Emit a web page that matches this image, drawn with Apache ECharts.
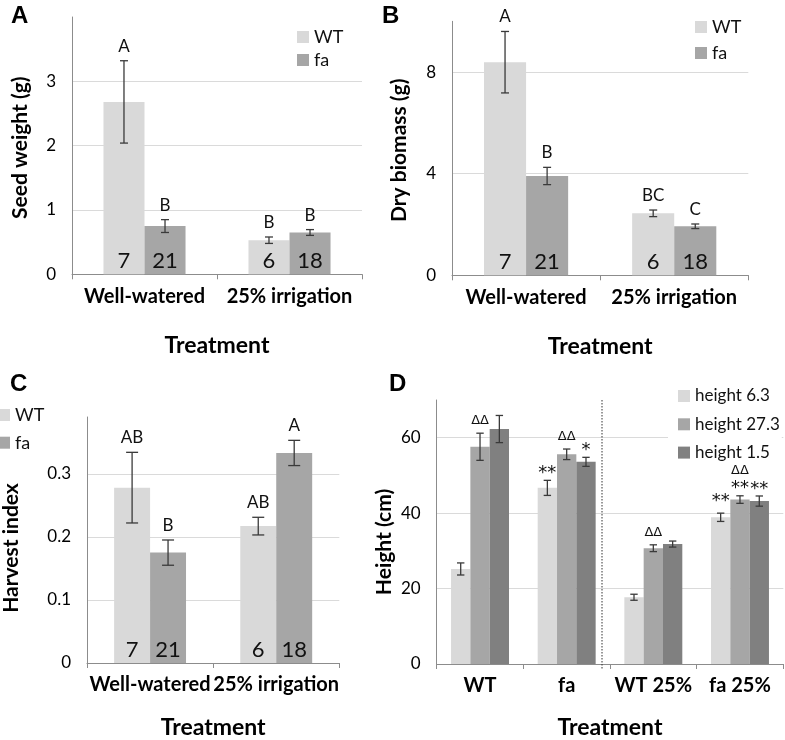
<!DOCTYPE html>
<html>
<head>
<meta charset="utf-8">
<script src="https://cdn.jsdelivr.net/npm/echarts@6/dist/echarts.min.js"></script>
<style>html,body{margin:0;padding:0;background:#fff}#c{width:785px;height:740px}</style>
</head>
<body>
<div id="c"></div>
<script>
// ---------- DATA ----------
const treatments = ['Well-watered', '25% irrigation'];
const genotypes = ['WT', 'fa'];
const nWT = [7, 6];
const nFa = [21, 18];

const seedWT = [2.68, 0.53];
const seedWTErr = [0.64, 0.05];
const seedFa = [0.75, 0.65];
const seedFaErr = [0.10, 0.045];
const seedWTLetters = ['A', 'B'];
const seedFaLetters = ['B', 'B'];

const biomassWT = [8.39, 2.44];
const biomassWTErr = [1.21, 0.13];
const biomassFa = [3.91, 1.93];
const biomassFaErr = [0.34, 0.09];
const biomassWTLetters = ['A', 'BC'];
const biomassFaLetters = ['B', 'C'];

const harvestWT = [0.278, 0.217];
const harvestWTErr = [0.056, 0.014];
const harvestFa = [0.175, 0.333];
const harvestFaErr = [0.020, 0.020];
const harvestWTLetters = ['AB', 'AB'];
const harvestFaLetters = ['B', 'A'];

const heightGroups = ['WT', 'fa', 'WT 25%', 'fa 25%'];
const heightNames = ['height 6.3', 'height 27.3', 'height 1.5'];
const height63 = [25.2, 46.7, 17.7, 38.9];
const height63Err = [1.6, 2.0, 0.8, 1.1];
const height273 = [57.6, 55.6, 30.7, 43.6];
const height273Err = [3.6, 1.4, 0.9, 1.0];
const height15 = [62.3, 53.6, 31.8, 43.2];
const height15Err = [3.6, 1.2, 0.8, 1.35];
const height63Stars = ['', '**', '', '**'];
const height273Stars = ['', '', '', '**'];
const height15Stars = ['', '*', '', '**'];
const height63Deltas = ['', '', '', ''];
const height273Deltas = ['ΔΔ', 'ΔΔ', 'ΔΔ', 'ΔΔ'];
const height15Deltas = ['', '', '', ''];

// ---------- STYLE ----------
const FONT = 'Lato, "Open Sans", sans-serif';
const C_LIGHT = '#d9d9d9', C_MID = '#a6a6a6', C_DARK = '#808080';
const AXIS_C = '#8c8c8c', GRID_C = '#dadada', ERR_C = '#3a3a3a';

const grids = [
  {left: 72, top: 17, width: 290, height: 257.3},
  {left: 452, top: 21.3, width: 296.3, height: 254},
  {left: 84.3, top: 417, width: 255, height: 248.7},
  {left: 436.7, top: 400, width: 346.6, height: 265.3}
];

function xAx(gi, cats, gap) {
  return {
    type: 'category', gridIndex: gi, data: cats,
    axisLine: {lineStyle: {color: AXIS_C}},
    axisTick: {show: true, length: 5, lineStyle: {color: AXIS_C}},
    axisLabel: {fontFamily: FONT, fontWeight: 'bold', fontSize: 20, color: '#000', margin: 12, interval: 0},
    name: 'Treatment', nameLocation: 'middle', nameGap: gap,
    nameTextStyle: {fontFamily: FONT, fontWeight: 'bold', fontSize: 23, color: '#000'}
  };
}
function yAx(gi, max, interval, name, gap, shift, fmt) {
  return {
    type: 'value', gridIndex: gi, min: 0, max: max, interval: interval,
    axisLine: {show: true, lineStyle: {color: AXIS_C}},
    axisTick: {show: false},
    splitLine: {show: true, showMaxLine: false, lineStyle: {color: GRID_C}},
    axisLabel: {fontFamily: FONT, fontSize: 17, color: '#000', margin: 16, showMaxLabel: false,
      formatter: fmt || (v => String(v))},
    name: name, nameLocation: 'middle', nameGap: gap, nameRotate: 90,
    nameTextStyle: {fontFamily: FONT, fontWeight: 'bold', fontSize: 21, color: '#000',
      padding: [0, shift, 0, 0]}
  };
}

function barSeries(gi, name, values, color, frac, counts) {
  const s = {
    type: 'bar', name: name, xAxisIndex: gi, yAxisIndex: gi,
    data: values, barWidth: frac, barGap: '0%',
    itemStyle: {color: color}, z: 2
  };
  if (counts) {
    s.label = {show: true, position: 'insideBottom', distance: 2,
      fontFamily: FONT, fontSize: 22, color: '#111',
      formatter: p => String(counts[p.dataIndex])};
  }
  return s;
}

// error bars + text annotations above them
function errSeries(gi, values, errs, opts) {
  const n = opts.n, idx = opts.idx, frac = opts.frac, capHalf = opts.cap;
  return {
    type: 'custom', xAxisIndex: gi, yAxisIndex: gi, z: 5, silent: true,
    data: values.map((v, i) => [i, v, errs[i]]),
    renderItem: function (params, api) {
      const ci = api.value(0), v = api.value(1), e = api.value(2);
      const c = api.coord([ci, v]);
      const catW = api.size([1, 0])[0];
      const bw = catW * frac;
      const x = c[0] + (idx - (n - 1) / 2) * bw;
      const top = api.coord([ci, v + e])[1];
      const bot = api.coord([ci, v - e])[1];
      const st = {stroke: ERR_C, lineWidth: 1.3};
      const ch = [
        {type: 'line', shape: {x1: x, y1: top, x2: x, y2: bot}, style: st},
        {type: 'line', shape: {x1: x - capHalf, y1: top, x2: x + capHalf, y2: top}, style: st},
        {type: 'line', shape: {x1: x - capHalf, y1: bot, x2: x + capHalf, y2: bot}, style: st}
      ];
      const di = params.dataIndex;
      if (opts.letters && opts.letters[di]) {
        ch.push({type: 'text', x: x, y: top - 6,
          style: {text: opts.letters[di], align: 'center', verticalAlign: 'bottom',
            font: '17px ' + FONT, fill: '#111'}});
      }
      let y = top;
      if (opts.stars && opts.stars[di]) {
        ch.push({type: 'text', x: x, y: top - 7 - (opts.starExtra ? opts.starExtra[di] : 0),
          style: {text: opts.stars[di], align: 'center', verticalAlign: 'middle',
            font: '18px "DejaVu Sans"', fill: '#111'}});
        y = top - 12.6;
      }
      if (opts.deltas && opts.deltas[di]) {
        ch.push({type: 'text', x: x, y: y - 12.5,
          style: {text: opts.deltas[di], align: 'center', verticalAlign: 'middle',
            font: '13px "DejaVu Sans"', fill: '#111'}});
      }
      return {type: 'group', children: ch};
    }
  };
}

const series = [
  // Panel A
  barSeries(0, 'WT', seedWT, C_LIGHT, '28.3%', nWT),
  barSeries(0, 'fa', seedFa, C_MID, '28.3%', nFa),
  errSeries(0, seedWT, seedWTErr, {n: 2, idx: 0, frac: 0.283, cap: 4, letters: seedWTLetters}),
  errSeries(0, seedFa, seedFaErr, {n: 2, idx: 1, frac: 0.283, cap: 4, letters: seedFaLetters}),
  // Panel B
  barSeries(1, 'WT', biomassWT, C_LIGHT, '28.4%', nWT),
  barSeries(1, 'fa', biomassFa, C_MID, '28.4%', nFa),
  errSeries(1, biomassWT, biomassWTErr, {n: 2, idx: 0, frac: 0.284, cap: 4, letters: biomassWTLetters}),
  errSeries(1, biomassFa, biomassFaErr, {n: 2, idx: 1, frac: 0.284, cap: 4, letters: biomassFaLetters}),
  // Panel C
  barSeries(2, 'WT', harvestWT, C_LIGHT, '28.5%', nWT),
  barSeries(2, 'fa', harvestFa, C_MID, '28.5%', nFa),
  errSeries(2, harvestWT, harvestWTErr, {n: 2, idx: 0, frac: 0.285, cap: 6, letters: harvestWTLetters}),
  errSeries(2, harvestFa, harvestFaErr, {n: 2, idx: 1, frac: 0.285, cap: 6, letters: harvestFaLetters}),
  // Panel D
  barSeries(3, heightNames[0], height63, C_LIGHT, '22.3%'),
  barSeries(3, heightNames[1], height273, C_MID, '22.3%'),
  barSeries(3, heightNames[2], height15, C_DARK, '22.3%'),
  errSeries(3, height63, height63Err, {n: 3, idx: 0, frac: 0.223, cap: 3.7,
    stars: height63Stars, deltas: height63Deltas, starExtra: [0, 0, 0, 5]}),
  errSeries(3, height273, height273Err, {n: 3, idx: 1, frac: 0.223, cap: 3.7,
    stars: height273Stars, deltas: height273Deltas}),
  errSeries(3, height15, height15Err, {n: 3, idx: 2, frac: 0.223, cap: 3.7,
    stars: height15Stars, deltas: height15Deltas}),
  // Divider between well-watered and 25% groups in D
  {
    type: 'custom', xAxisIndex: 3, yAxisIndex: 3, silent: true, z: 1,
    data: [[1, 0]],
    renderItem: function (params, api) {
      const a = api.coord([1, 0]), b = api.coord([2, 0]);
      const topY = api.coord([1, 70])[1];
      const x = (a[0] + b[0]) / 2 - 8;
      return {type: 'line', shape: {x1: x, y1: topY, x2: x, y2: a[1] + 5},
        style: {stroke: '#333', lineWidth: 1, lineDash: [1.5, 1.5]}};
    }
  }
];

const legendText = {fontFamily: FONT, fontSize: 18, color: '#111', lineHeight: 20};
const legendText2 = {fontFamily: FONT, fontSize: 17, color: '#111', lineHeight: 22};
const PANEL_FONT = 'bold 24px "Liberation Sans", Arial';
const option = {
  animation: false,
  backgroundColor: '#fff',
  grid: grids,
  xAxis: [xAx(0, treatments, 60), xAx(1, treatments, 60), xAx(2, treatments, 53), xAx(3, heightGroups, 52)],
  yAxis: [
    yAx(0, 4, 1, 'Seed weight (g)', 41, 4),
    yAx(1, 10, 4, 'Dry biomass (g)', 42, 4),
    yAx(2, 0.39, 0.1, 'Harvest index', 65, 16, v => (v === 0 ? '0' : v.toFixed(1))),
    yAx(3, 70, 20, 'Height (cm)', 42, 20)
  ],
  legend: [
    {data: genotypes, orient: 'vertical', left: 297, top: 27, itemWidth: 12, itemHeight: 12, itemGap: 3,
      icon: 'rect', padding: 0, textStyle: legendText, selectedMode: false},
    {data: genotypes, orient: 'vertical', left: 695, top: 17, itemWidth: 12, itemHeight: 12, itemGap: 6,
      icon: 'rect', padding: 0, textStyle: legendText, selectedMode: false},
    {data: genotypes, orient: 'vertical', left: -2, top: 405, itemWidth: 12, itemHeight: 12, itemGap: 7.7,
      icon: 'rect', padding: 0, textStyle: legendText, selectedMode: false},
    {data: heightNames, orient: 'vertical', left: 668, top: 379, itemWidth: 12, itemHeight: 12, itemGap: 6.3,
      icon: 'rect', padding: [6, 2, 6, 10], backgroundColor: '#fff', textStyle: legendText2, selectedMode: false}
  ],
  graphic: [
    {type: 'text', left: 11, top: 4, style: {text: 'A', font: PANEL_FONT, fill: '#000'}},
    {type: 'text', left: 382, top: 4, style: {text: 'B', font: PANEL_FONT, fill: '#000'}},
    {type: 'text', left: 10, top: 372, style: {text: 'C', font: PANEL_FONT, fill: '#000'}},
    {type: 'text', left: 389, top: 372, style: {text: 'D', font: PANEL_FONT, fill: '#000'}}
  ],
  series: series
};

const chart = echarts.init(document.getElementById('c'), null, {renderer: 'canvas'});
chart.setOption(option);
</script>
</body>
</html>
